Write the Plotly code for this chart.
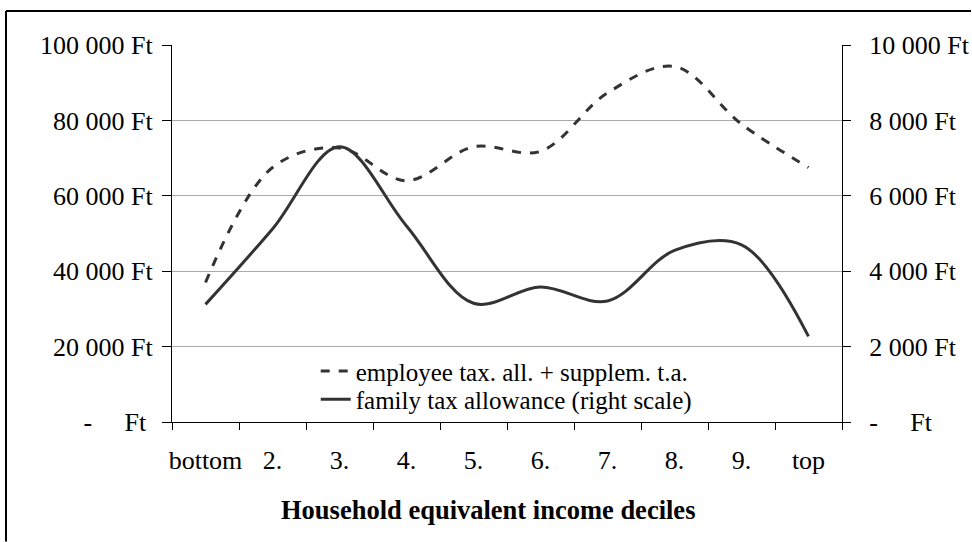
import plotly.graph_objects as go

categories = ["bottom", "2.", "3.", "4.", "5.", "6.", "7.", "8.", "9.", "top"]
employee_ta = [37000, 67500, 72700, 64000, 73000, 71800, 87300, 94300, 79000, 67500]
family_ta = [3120, 5120, 7300, 5200, 3150, 3580, 3210, 4550, 4700, 2270]

NB = "\u00a0"
left_tickvals = [0, 20000, 40000, 60000, 80000, 100000]
left_ticktext = ["-" + NB * 5 + "Ft" + NB, "20 000 Ft", "40 000 Ft", "60 000 Ft", "80 000 Ft", "100 000 Ft"]
right_tickvals = [0, 2000, 4000, 6000, 8000, 10000]
right_ticktext = ["-" + NB * 5 + "Ft", "2 000 Ft", "4 000 Ft", "6 000 Ft", "8 000 Ft", "10 000 Ft"]
x_title = "Household equivalent income deciles"

FONT = "Liberation Serif, Times New Roman, serif"
LINE_COLOR = "#333333"
FS = 26
LEG_FS = 25

fig = go.Figure()
fig.add_trace(go.Scatter(
    x=categories, y=employee_ta, name="employee tax. all. + supplem. t.a.",
    mode="lines", line=dict(color=LINE_COLOR, width=3, dash="dash", shape="spline", smoothing=1),
    yaxis="y", legend="legend",
))
fig.add_trace(go.Scatter(
    x=categories, y=family_ta, name="family tax allowance (right scale)",
    mode="lines", line=dict(color=LINE_COLOR, width=3, shape="spline", smoothing=1),
    yaxis="y2", legend="legend2",
))

fig.update_layout(
    template="none",
    width=972, height=542,
    margin=dict(l=172, r=130, t=45, b=120, autoexpand=False),
    paper_bgcolor="white", plot_bgcolor="white",
    font=dict(family=FONT, size=FS, color="black"),
    xaxis=dict(
        type="category", categoryorder="array", categoryarray=categories,
        range=[-0.5, 9.5], showgrid=False, zeroline=False, automargin=False,
        showline=True, linecolor="black", linewidth=1,
        ticks="outside", tickson="boundaries", ticklen=7, tickcolor="black", tickwidth=1,
        tickangle=0, ticklabelstandoff=15,
    ),
    yaxis=dict(
        range=[0, 100000], tickvals=left_tickvals, ticktext=left_ticktext,
        showgrid=True, gridcolor="#ababab", gridwidth=1, zeroline=False, automargin=False,
        showline=True, linecolor="black", linewidth=1,
        ticks="outside", ticklen=9, tickcolor="black", tickwidth=1,
        ticklabelstandoff=4,
    ),
    yaxis2=dict(
        range=[0, 10000], tickvals=right_tickvals, ticktext=right_ticktext,
        overlaying="y", side="right", showgrid=False, zeroline=False, automargin=False,
        showline=True, linecolor="black", linewidth=1,
        ticks="outside", ticklen=8, tickcolor="black", tickwidth=1,
        ticklabelstandoff=13,
    ),
    legend=dict(x=0.2145, y=0.1346, xanchor="left", yanchor="middle",
                bgcolor="rgba(0,0,0,0)", borderwidth=0,
                font=dict(family=FONT, size=LEG_FS, color="black")),
    legend2=dict(x=0.2145, y=0.0600, xanchor="left", yanchor="middle",
                 bgcolor="rgba(0,0,0,0)", borderwidth=0,
                 font=dict(family=FONT, size=LEG_FS, color="black")),
    showlegend=True,
)

# axis title, centred on the chart area as in the original
fig.add_annotation(text="<b>" + x_title + "</b>", xref="paper", yref="paper",
                   x=(488 - 172) / 670, y=(421.7 - 510) / 376.7,
                   xanchor="center", yanchor="middle", showarrow=False,
                   font=dict(family=FONT, size=26.5, color="black"))

# outer chart-area frame (left and top edges; right/bottom fall outside the picture)
px_x = lambda p: (p - 172) / 670
px_y = lambda p: (421.7 - p) / 376.7
fig.add_shape(type="line", xref="paper", yref="paper",
              x0=px_x(6), x1=px_x(6), y0=px_y(541), y1=px_y(11),
              line=dict(color="black", width=2), layer="below")
fig.add_shape(type="line", xref="paper", yref="paper",
              x0=px_x(6), x1=px_x(971), y0=px_y(11), y1=px_y(11),
              line=dict(color="black", width=2), layer="below")

fig.write_html(
    "out.html",
    config={"displayModeBar": False},
    post_script="document.body.style.margin='0';document.body.style.overflow='hidden';",
)
